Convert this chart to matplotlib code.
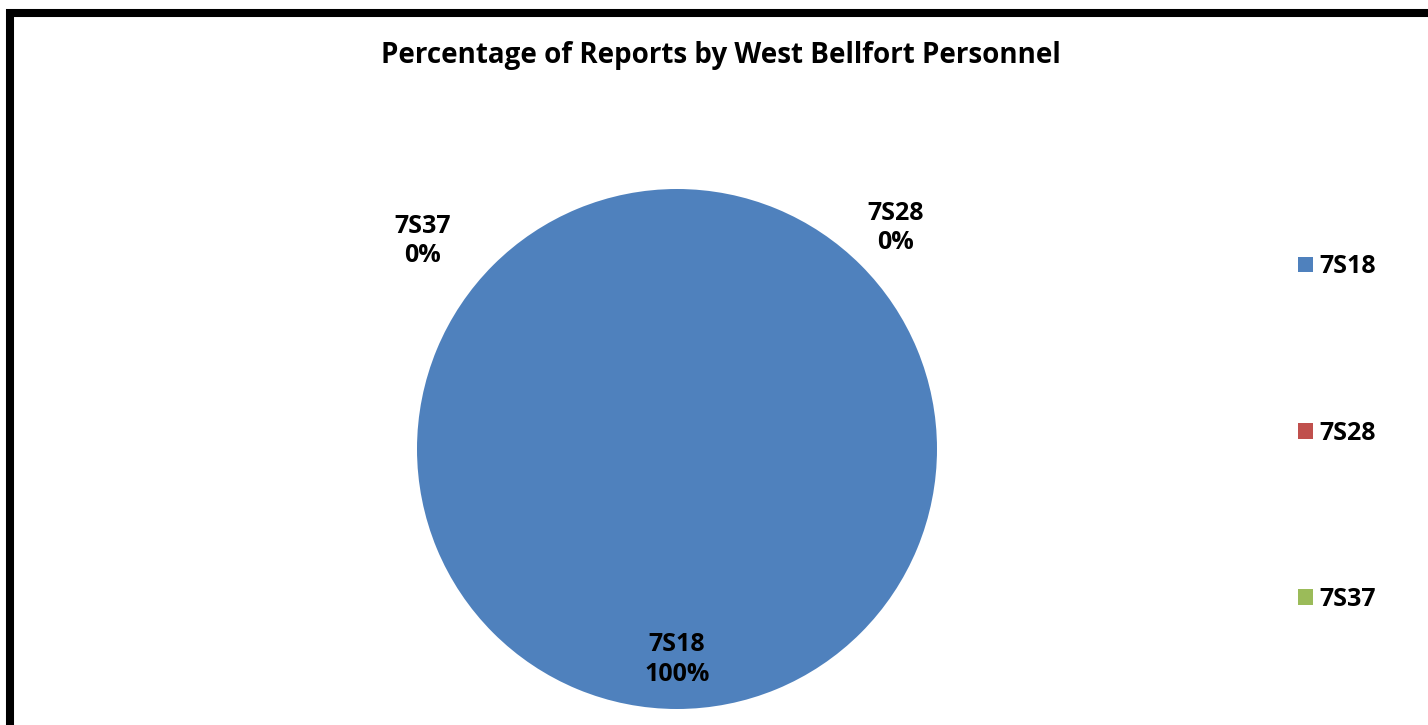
import numpy as np
import matplotlib
matplotlib.use("Agg")
import matplotlib.pyplot as plt
from matplotlib.patches import Rectangle, Patch

plt.rcParams['font.family'] = ['Open Sans', 'DejaVu Sans']

# data
labels = ['7S18', '7S28', '7S37']
values = [100, 0, 0]
colors = ['#4F81BD', '#C0504D', '#9BBB59']
title = 'Percentage of Reports by West Bellfort Personnel'

W, H = 1428, 725
fig = plt.figure(figsize=(W / 100, H / 100), dpi=100)
fig.patch.set_facecolor('white')

# chart-area border (cut off on the right and bottom)
fig.patches.append(Rectangle((10 / W, -0.1), 1.2, (H - 13) / H + 0.1,
                             transform=fig.transFigure, fill=False,
                             edgecolor='black', linewidth=5.8, zorder=5))

fig.text(721 / W, 1 - 55 / H, title, ha='center', va='center',
         fontsize=20, fontweight='bold')

# pie axes: centre (677, 449), radius 260 px
cx, cy, r = 677, 449, 260
ax = fig.add_axes([(cx - r) / W, (H - cy - r) / H, 2 * r / W, 2 * r / H])
wedges, _ = ax.pie(values, colors=colors, startangle=90, counterclock=False,
                   radius=1, wedgeprops=dict(linewidth=0))
ax.set_xlim(-1, 1)
ax.set_ylim(-1, 1)
ax.set_aspect('equal')
ax.axis('off')

total = sum(values)
pcts = [v / total * 100 for v in values]
zero_side = [0.84, -0.98]
zi = 0
for lab, p, w in zip(labels, pcts, wedges):
    mid = np.deg2rad((w.theta1 + w.theta2) / 2)
    txt = f'{lab}\n{p:.0f}%'
    if p > 0:
        x, y = 0.81 * np.cos(mid), 0.81 * np.sin(mid)
    else:
        x = zero_side[zi]
        y = 0.85 if zi == 0 else 0.80
        zi += 1
    ax.text(x, y, txt, ha='center', va='center', fontsize=18,
            fontweight='bold', linespacing=1.25)

handles = [Patch(facecolor=c, edgecolor='none') for c in colors]
leg = fig.legend(handles, labels, loc='center left',
                 bbox_to_anchor=(1275 / W, 1 - 433 / H), frameon=False,
                 prop=dict(size=18, weight='bold'), labelspacing=5.65,
                 handlelength=0.6, handleheight=0.6, handletextpad=0.28)

fig.savefig('out.png', dpi=100)
